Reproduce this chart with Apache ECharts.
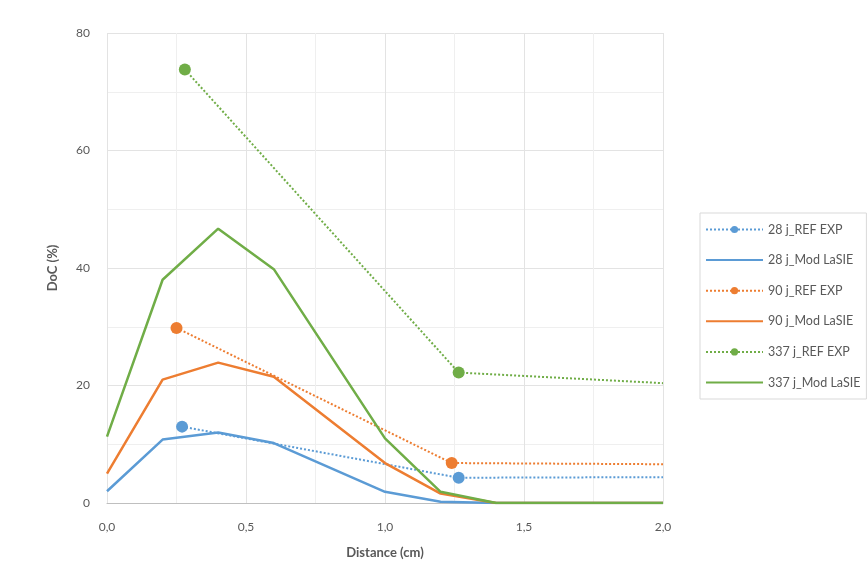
<!DOCTYPE html>
<html>
<head>
<meta charset="utf-8">
<script src="https://cdn.jsdelivr.net/npm/echarts@6/dist/echarts.min.js"></script>
<style>
  html, body { margin: 0; padding: 0; background: #ffffff; }
  #chart { width: 868px; height: 587px; }
</style>
</head>
<body>
<div id="chart"></div>
<script>
// Distances (cm) of the model profile
const modDistance = [0, 0.2, 0.4, 0.6, 1.0, 1.2, 1.4, 2.0];
const mod28 = [2.0, 10.8, 12.0, 10.2, 1.9, 0.2, 0, 0];
const mod90 = [5.0, 21.0, 23.9, 21.5, 6.8, 1.6, 0, 0];
const mod337 = [11.3, 38.0, 46.7, 39.8, 11.0, 1.9, 0, 0];

// Experimental reference measurements (last point only extends the line)
const ref28Distance = [0.27, 1.265, 2.0];
const ref28 = [13.0, 4.3, 4.4];
const ref90Distance = [0.25, 1.24, 2.0];
const ref90 = [29.8, 6.8, 6.6];
const ref337Distance = [0.28, 1.265, 2.0];
const ref337 = [73.8, 22.2, 20.4];

const xTicks = { min: 0, max: 2, interval: 0.5 };
const yTicks = { min: 0, max: 80, interval: 20 };

const legendNames = ['28 j_REF EXP', '28 j_Mod LaSIE', '90 j_REF EXP', '90 j_Mod LaSIE', '337 j_REF EXP', '337 j_Mod LaSIE'];

const BLUE = '#5B9BD5', ORANGE = '#ED7D31', GREEN = '#70AD47';
const FONT = 'Lato, "Liberation Sans", sans-serif';

function pairs(xs, ys, lastMarker) {
  return xs.map((x, i) => {
    if (!lastMarker && i === xs.length - 1) {
      return { value: [x, ys[i]], symbol: 'none' };
    }
    return [x, ys[i]];
  });
}

function refSeries(name, xs, ys, color) {
  return {
    name: name,
    type: 'line',
    data: pairs(xs, ys, false),
    symbol: 'circle',
    symbolSize: 12,
    itemStyle: { color: color },
    lineStyle: { color: color, width: 2, type: [2, 2] },
    z: 2
  };
}

function modSeries(name, ys, color) {
  return {
    name: name,
    type: 'line',
    data: pairs(modDistance, ys, true),
    symbol: 'none',
    itemStyle: { color: color },
    lineStyle: { color: color, width: 2.5 },
    z: 3
  };
}

const chart = echarts.init(document.getElementById('chart'), null, { renderer: 'canvas' });

chart.setOption({
  animation: false,
  backgroundColor: '#ffffff',
  textStyle: { fontFamily: FONT },
  grid: { left: 107, right: 205, top: 33, bottom: 84, containLabel: false },
  legend: {
    orient: 'vertical',
    left: 700,
    top: 213,
    padding: [10, 6, 10, 5],
    itemGap: 17.6,
    itemWidth: 57,
    itemHeight: 9,
    borderColor: '#d9d9d9',
    borderWidth: 1,
    textStyle: { fontFamily: FONT, fontSize: 12.5, color: '#595959' },
    // model entries show the line only
    data: legendNames.map(n => n.indexOf('Mod') >= 0
      ? { name: n, itemStyle: { opacity: 0 } }
      : { name: n })
  },
  xAxis: {
    type: 'value',
    min: xTicks.min,
    max: xTicks.max,
    interval: xTicks.interval,
    name: 'Distance (cm)',
    nameLocation: 'middle',
    nameGap: 43,
    nameTextStyle: { fontFamily: FONT, fontSize: 13, fontWeight: 'bold', color: '#595959' },
    axisLine: { show: true, lineStyle: { color: '#bfbfbf', width: 1 } },
    axisTick: { show: false },
    axisLabel: {
      fontFamily: FONT, fontSize: 12, color: '#595959', margin: 18,
      formatter: v => v.toFixed(1).replace('.', ',')
    },
    splitLine: { show: true, lineStyle: { color: '#e3e3e3', width: 1 } },
    minorTick: { show: false, splitNumber: 2 },
    minorSplitLine: { show: true, lineStyle: { color: '#efefef', width: 1 } }
  },
  yAxis: {
    type: 'value',
    min: yTicks.min,
    max: yTicks.max,
    interval: yTicks.interval,
    name: 'DoC (%)',
    nameLocation: 'middle',
    nameGap: 48,
    nameRotate: 90,
    nameTextStyle: { fontFamily: FONT, fontSize: 13, fontWeight: 'bold', color: '#595959' },
    axisLine: { show: false },
    axisTick: { show: false },
    axisLabel: { fontFamily: FONT, fontSize: 12, color: '#595959', margin: 17 },
    splitLine: { show: true, lineStyle: { color: '#e3e3e3', width: 1 } },
    minorTick: { show: false, splitNumber: 2 },
    minorSplitLine: { show: true, lineStyle: { color: '#efefef', width: 1 } }
  },
  series: [
    refSeries('28 j_REF EXP', ref28Distance, ref28, BLUE),
    modSeries('28 j_Mod LaSIE', mod28, BLUE),
    refSeries('90 j_REF EXP', ref90Distance, ref90, ORANGE),
    modSeries('90 j_Mod LaSIE', mod90, ORANGE),
    refSeries('337 j_REF EXP', ref337Distance, ref337, GREEN),
    modSeries('337 j_Mod LaSIE', mod337, GREEN)
  ]
});
</script>
</body>
</html>
